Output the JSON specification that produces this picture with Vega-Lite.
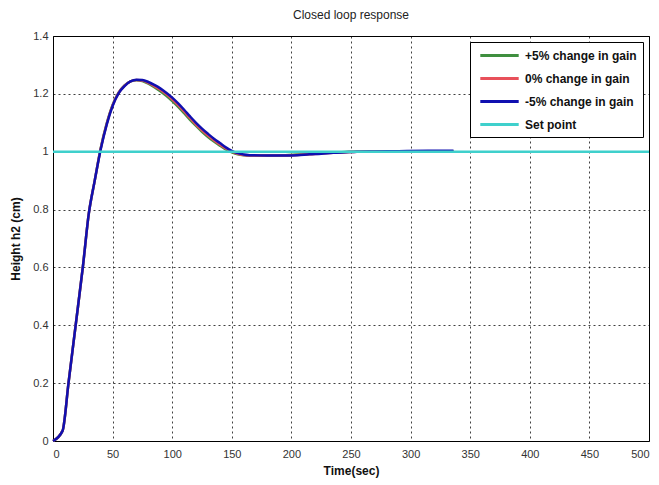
{
  "$schema": "https://vega.github.io/schema/vega-lite/v6.json",
  "width": 596,
  "height": 405,
  "autosize": {"type": "none"},
  "padding": {"left": 53, "top": 36, "right": 10, "bottom": 44},
  "background": "white",
  "title": {"text": "Closed loop response", "fontSize": 12, "fontWeight": "normal", "font": "Liberation Sans", "color": "#222", "offset": 8, "anchor": "middle"},
  "config": {
    "view": {"stroke": "#000", "strokeWidth": 1},
    "axis": {
      "labelFont": "Liberation Sans",
      "labelFontSize": 11,
      "labelColor": "#333",
      "titleFont": "Liberation Sans",
      "titleFontSize": 12,
      "titleFontWeight": "bold",
      "titleColor": "#111",
      "grid": true,
      "gridColor": "#000",
      "gridDash": [2, 3],
      "gridOpacity": 0.75,
      "gridWidth": 1,
      "ticks": false,
      "domainColor": "#000",
      "domain": false
    },
    "legend": {
      "orient": "top-right",
      "offset": 6,
      "fillColor": "white",
      "strokeColor": "#000",
      "padding": 6,
      "labelFont": "Liberation Sans",
      "labelFontSize": 12,
      "labelFontWeight": "bold",
      "labelColor": "#111",
      "rowPadding": 9,
      "symbolType": "M-3.2,0H3.2",
      "symbolSize": 144,
      "symbolOffset": 16,
      "labelOffset": 18,
      "symbolStrokeWidth": 3,
      "symbolOpacity": 1
    }
  },
  "datasets": {
    "gain": [
      {"t": 0, "h": 0, "s": "+5% change in gain"},
      {"t": 8, "h": 0.035, "s": "+5% change in gain"},
      {"t": 13, "h": 0.2, "s": "+5% change in gain"},
      {"t": 19, "h": 0.4, "s": "+5% change in gain"},
      {"t": 25, "h": 0.6, "s": "+5% change in gain"},
      {"t": 30, "h": 0.785, "s": "+5% change in gain"},
      {"t": 35, "h": 0.9, "s": "+5% change in gain"},
      {"t": 40, "h": 1.012, "s": "+5% change in gain"},
      {"t": 45, "h": 1.097, "s": "+5% change in gain"},
      {"t": 50, "h": 1.162, "s": "+5% change in gain"},
      {"t": 55, "h": 1.204, "s": "+5% change in gain"},
      {"t": 60, "h": 1.229, "s": "+5% change in gain"},
      {"t": 65, "h": 1.243, "s": "+5% change in gain"},
      {"t": 70, "h": 1.247, "s": "+5% change in gain"},
      {"t": 75, "h": 1.244, "s": "+5% change in gain"},
      {"t": 80, "h": 1.235, "s": "+5% change in gain"},
      {"t": 85, "h": 1.223, "s": "+5% change in gain"},
      {"t": 90, "h": 1.209, "s": "+5% change in gain"},
      {"t": 95, "h": 1.193, "s": "+5% change in gain"},
      {"t": 100, "h": 1.175, "s": "+5% change in gain"},
      {"t": 105, "h": 1.155, "s": "+5% change in gain"},
      {"t": 110, "h": 1.133, "s": "+5% change in gain"},
      {"t": 115, "h": 1.11, "s": "+5% change in gain"},
      {"t": 120, "h": 1.089, "s": "+5% change in gain"},
      {"t": 125, "h": 1.069, "s": "+5% change in gain"},
      {"t": 130, "h": 1.051, "s": "+5% change in gain"},
      {"t": 135, "h": 1.035, "s": "+5% change in gain"},
      {"t": 140, "h": 1.021, "s": "+5% change in gain"},
      {"t": 145, "h": 1.008, "s": "+5% change in gain"},
      {"t": 150, "h": 0.998, "s": "+5% change in gain"},
      {"t": 155, "h": 0.991, "s": "+5% change in gain"},
      {"t": 160, "h": 0.988, "s": "+5% change in gain"},
      {"t": 165, "h": 0.987, "s": "+5% change in gain"},
      {"t": 180, "h": 0.987, "s": "+5% change in gain"},
      {"t": 195, "h": 0.988, "s": "+5% change in gain"},
      {"t": 205, "h": 0.99, "s": "+5% change in gain"},
      {"t": 215, "h": 0.992, "s": "+5% change in gain"},
      {"t": 225, "h": 0.995, "s": "+5% change in gain"},
      {"t": 235, "h": 0.997, "s": "+5% change in gain"},
      {"t": 245, "h": 0.999, "s": "+5% change in gain"},
      {"t": 255, "h": 1.0, "s": "+5% change in gain"},
      {"t": 270, "h": 1.001, "s": "+5% change in gain"},
      {"t": 290, "h": 1.002, "s": "+5% change in gain"},
      {"t": 315, "h": 1.002, "s": "+5% change in gain"},
      {"t": 336, "h": 1.002, "s": "+5% change in gain"},

      {"t": 0, "h": 0, "s": "0% change in gain"},
      {"t": 8, "h": 0.035, "s": "0% change in gain"},
      {"t": 13, "h": 0.2, "s": "0% change in gain"},
      {"t": 19, "h": 0.4, "s": "0% change in gain"},
      {"t": 25, "h": 0.6, "s": "0% change in gain"},
      {"t": 30, "h": 0.785, "s": "0% change in gain"},
      {"t": 35, "h": 0.9, "s": "0% change in gain"},
      {"t": 40, "h": 1.01, "s": "0% change in gain"},
      {"t": 45, "h": 1.095, "s": "0% change in gain"},
      {"t": 50, "h": 1.16, "s": "0% change in gain"},
      {"t": 55, "h": 1.203, "s": "0% change in gain"},
      {"t": 60, "h": 1.228, "s": "0% change in gain"},
      {"t": 65, "h": 1.243, "s": "0% change in gain"},
      {"t": 70, "h": 1.248, "s": "0% change in gain"},
      {"t": 75, "h": 1.246, "s": "0% change in gain"},
      {"t": 80, "h": 1.238, "s": "0% change in gain"},
      {"t": 85, "h": 1.227, "s": "0% change in gain"},
      {"t": 90, "h": 1.214, "s": "0% change in gain"},
      {"t": 95, "h": 1.199, "s": "0% change in gain"},
      {"t": 100, "h": 1.181, "s": "0% change in gain"},
      {"t": 105, "h": 1.161, "s": "0% change in gain"},
      {"t": 110, "h": 1.139, "s": "0% change in gain"},
      {"t": 115, "h": 1.116, "s": "0% change in gain"},
      {"t": 120, "h": 1.094, "s": "0% change in gain"},
      {"t": 125, "h": 1.074, "s": "0% change in gain"},
      {"t": 130, "h": 1.056, "s": "0% change in gain"},
      {"t": 135, "h": 1.04, "s": "0% change in gain"},
      {"t": 140, "h": 1.025, "s": "0% change in gain"},
      {"t": 145, "h": 1.011, "s": "0% change in gain"},
      {"t": 150, "h": 1.0, "s": "0% change in gain"},
      {"t": 155, "h": 0.993, "s": "0% change in gain"},
      {"t": 160, "h": 0.989, "s": "0% change in gain"},
      {"t": 165, "h": 0.987, "s": "0% change in gain"},
      {"t": 180, "h": 0.987, "s": "0% change in gain"},
      {"t": 195, "h": 0.987, "s": "0% change in gain"},
      {"t": 205, "h": 0.989, "s": "0% change in gain"},
      {"t": 215, "h": 0.991, "s": "0% change in gain"},
      {"t": 225, "h": 0.994, "s": "0% change in gain"},
      {"t": 235, "h": 0.996, "s": "0% change in gain"},
      {"t": 245, "h": 0.998, "s": "0% change in gain"},
      {"t": 255, "h": 1.0, "s": "0% change in gain"},
      {"t": 270, "h": 1.001, "s": "0% change in gain"},
      {"t": 290, "h": 1.002, "s": "0% change in gain"},
      {"t": 315, "h": 1.002, "s": "0% change in gain"},
      {"t": 336, "h": 1.002, "s": "0% change in gain"},

      {"t": 0, "h": 0, "s": "-5% change in gain"},
      {"t": 8, "h": 0.035, "s": "-5% change in gain"},
      {"t": 13, "h": 0.2, "s": "-5% change in gain"},
      {"t": 19, "h": 0.4, "s": "-5% change in gain"},
      {"t": 25, "h": 0.6, "s": "-5% change in gain"},
      {"t": 30, "h": 0.785, "s": "-5% change in gain"},
      {"t": 35, "h": 0.9, "s": "-5% change in gain"},
      {"t": 40, "h": 1.008, "s": "-5% change in gain"},
      {"t": 45, "h": 1.093, "s": "-5% change in gain"},
      {"t": 50, "h": 1.158, "s": "-5% change in gain"},
      {"t": 55, "h": 1.202, "s": "-5% change in gain"},
      {"t": 60, "h": 1.227, "s": "-5% change in gain"},
      {"t": 65, "h": 1.243, "s": "-5% change in gain"},
      {"t": 70, "h": 1.249, "s": "-5% change in gain"},
      {"t": 75, "h": 1.248, "s": "-5% change in gain"},
      {"t": 80, "h": 1.241, "s": "-5% change in gain"},
      {"t": 85, "h": 1.231, "s": "-5% change in gain"},
      {"t": 90, "h": 1.219, "s": "-5% change in gain"},
      {"t": 95, "h": 1.204, "s": "-5% change in gain"},
      {"t": 100, "h": 1.187, "s": "-5% change in gain"},
      {"t": 105, "h": 1.167, "s": "-5% change in gain"},
      {"t": 110, "h": 1.145, "s": "-5% change in gain"},
      {"t": 115, "h": 1.122, "s": "-5% change in gain"},
      {"t": 120, "h": 1.1, "s": "-5% change in gain"},
      {"t": 125, "h": 1.08, "s": "-5% change in gain"},
      {"t": 130, "h": 1.062, "s": "-5% change in gain"},
      {"t": 135, "h": 1.045, "s": "-5% change in gain"},
      {"t": 140, "h": 1.03, "s": "-5% change in gain"},
      {"t": 145, "h": 1.015, "s": "-5% change in gain"},
      {"t": 150, "h": 1.003, "s": "-5% change in gain"},
      {"t": 155, "h": 0.995, "s": "-5% change in gain"},
      {"t": 160, "h": 0.99, "s": "-5% change in gain"},
      {"t": 165, "h": 0.988, "s": "-5% change in gain"},
      {"t": 180, "h": 0.987, "s": "-5% change in gain"},
      {"t": 195, "h": 0.987, "s": "-5% change in gain"},
      {"t": 205, "h": 0.988, "s": "-5% change in gain"},
      {"t": 215, "h": 0.991, "s": "-5% change in gain"},
      {"t": 225, "h": 0.993, "s": "-5% change in gain"},
      {"t": 235, "h": 0.996, "s": "-5% change in gain"},
      {"t": 245, "h": 0.998, "s": "-5% change in gain"},
      {"t": 255, "h": 1.0, "s": "-5% change in gain"},
      {"t": 270, "h": 1.001, "s": "-5% change in gain"},
      {"t": 290, "h": 1.002, "s": "-5% change in gain"},
      {"t": 315, "h": 1.003, "s": "-5% change in gain"},
      {"t": 336, "h": 1.003, "s": "-5% change in gain"}
    ],
    "setpoint": [
      {"t": 0, "h": 1, "s": "Set point"},
      {"t": 500, "h": 1, "s": "Set point"}
    ]
  },
  "encoding": {
    "x": {
      "field": "t",
      "type": "quantitative",
      "scale": {"domain": [0, 500], "nice": false},
      "axis": {"title": "Time(sec)", "values": [0, 50, 100, 150, 200, 250, 300, 350, 400, 450, 500], "labelPadding": 7, "titlePadding": 6}
    },
    "y": {
      "field": "h",
      "type": "quantitative",
      "scale": {"domain": [0, 1.4], "nice": false},
      "axis": {"title": "Height h2 (cm)", "values": [0, 0.2, 0.4, 0.6, 0.8, 1, 1.2, 1.4], "format": "~g", "labelPadding": 5, "titlePadding": 10}
    },
    "color": {
      "field": "s",
      "type": "nominal",
      "scale": {
        "domain": ["+5% change in gain", "0% change in gain", "-5% change in gain", "Set point"],
        "range": ["#3f8f3f", "#e8505a", "#1010b0", "#3fd0cc"]
      },
      "legend": {"title": null}
    }
  },
  "layer": [
    {
      "data": {"name": "gain"},
      "mark": {"type": "line", "strokeWidth": 2.5, "interpolate": "monotone"}
    },
    {
      "data": {"name": "setpoint"},
      "mark": {"type": "line", "strokeWidth": 2.5}
    }
  ]
}
